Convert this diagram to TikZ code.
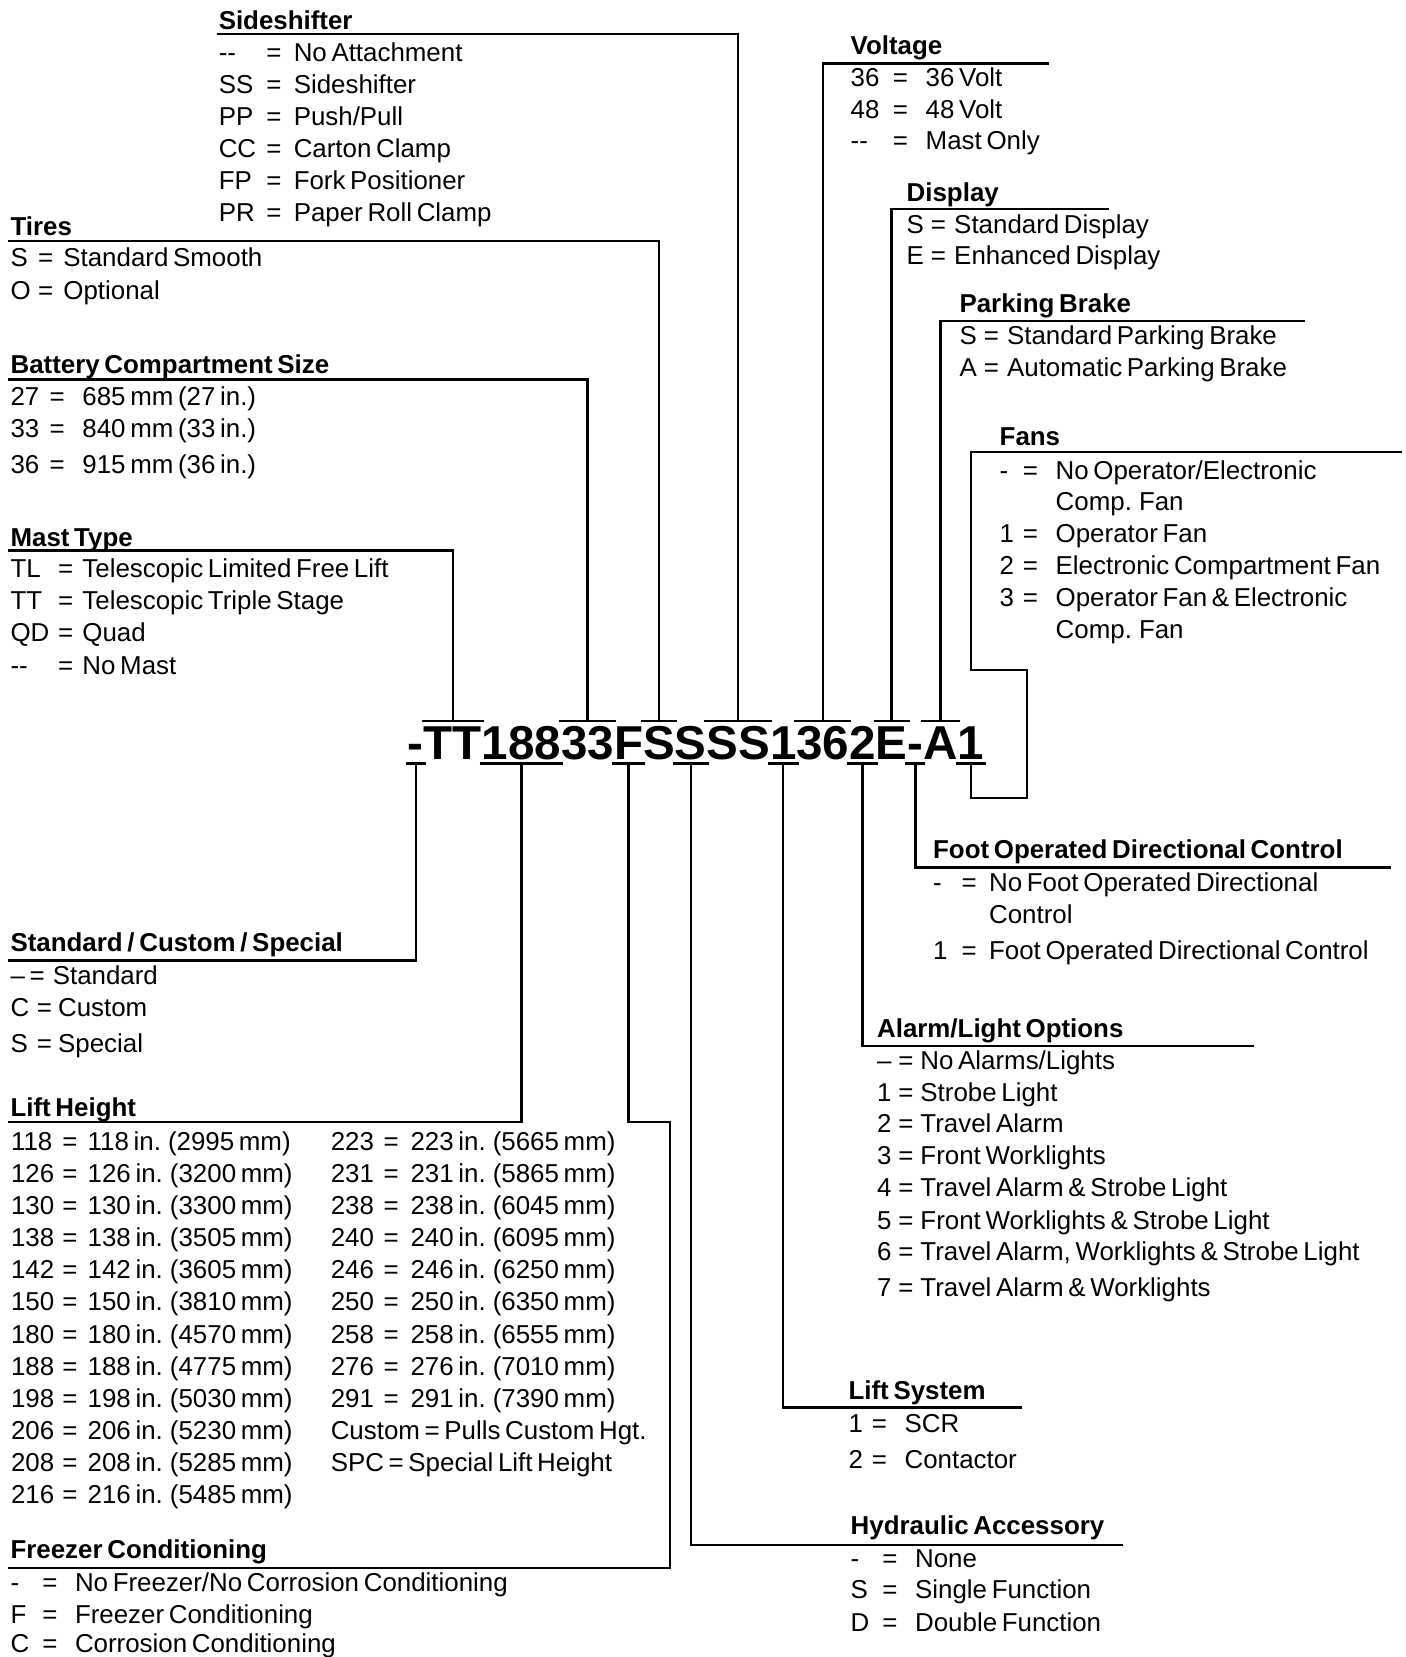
\documentclass[tikz,border=0pt]{standalone}
\usepackage{fontspec}
\setmainfont{Liberation Sans}[WordSpace=0.65]
\usetikzlibrary{calc}
\newcommand\ent[4]{\makebox[#2pt][l]{#1}\makebox[#3pt][l]{=}#4}
\tikzset{
  txt/.style={anchor=base west, inner sep=0pt, outer sep=0pt, font=\fontsize{24.5}{29}\selectfont},
  hd/.style={anchor=base west, inner sep=0pt, outer sep=0pt, font=\fontsize{24.5}{29}\selectfont\bfseries},
  ch/.style={anchor=base west, inner sep=0pt, outer sep=0pt, font=\fontsize{45}{50}\selectfont\bfseries},
  ln/.style={line width=2.2pt, line join=miter}
}
\newcommand\tbar[3]{%
  \draw[ln] ([xshift=-2pt,yshift=36.5pt]c#1.base west) -- ([xshift=2pt,yshift=36.5pt]c#2.base east);
  \coordinate (#3) at ($([yshift=36.5pt]c#1.base west)!0.5!([yshift=36.5pt]c#2.base east)$);}
\newcommand\bbar[3]{%
  \draw[ln] ([xshift=-2pt,yshift=-3.5pt]c#1.base west) -- ([xshift=2pt,yshift=-3.5pt]c#2.base east);
  \coordinate (#3) at ($([yshift=-3.5pt]c#1.base west)!0.5!([yshift=-3.5pt]c#2.base east)$);}
\begin{document}
\begin{tikzpicture}[x=1pt,y=-1pt]
\path[use as bounding box, fill=white] (0,0) rectangle (1330,1568);

% ---- code string ----
\node[ch] (c1) at (386,719) {-};
\node[ch] (c2) at (c1.base east) {T};
\node[ch] (c3) at (c2.base east) {T};
\node[ch] (c4) at (c3.base east) {1};
\node[ch] (c5) at (c4.base east) {8};
\node[ch] (c6) at (c5.base east) {8};
\node[ch] (c7) at (c6.base east) {3};
\node[ch] (c8) at (c7.base east) {3};
\node[ch] (c9) at (c8.base east) {F};
\node[ch] (c10) at (c9.base east) {S};
\node[ch] (c11) at (c10.base east) {S};
\node[ch] (c12) at (c11.base east) {S};
\node[ch] (c13) at (c12.base east) {S};
\node[ch] (c14) at (c13.base east) {1};
\node[ch] (c15) at (c14.base east) {3};
\node[ch] (c16) at (c15.base east) {6};
\node[ch] (c17) at (c16.base east) {2};
\node[ch] (c18) at (c17.base east) {E};
\node[ch] (c19) at (c18.base east) {-};
\node[ch] (c20) at (c19.base east) {A};
\node[ch] (c21) at (c20.base east) {1};

\tbar{2}{3}{tTT}
\tbar{7}{8}{t33}
\tbar{10}{10}{tS1}
\tbar{12}{13}{tSS}
\tbar{15}{16}{t36}
\tbar{18}{18}{tE}
\tbar{20}{20}{tA}
\bbar{1}{1}{bD}
\bbar{4}{6}{b188}
\bbar{9}{9}{bF}
\bbar{11}{11}{bS2}
\bbar{14}{14}{b1}
\bbar{17}{17}{b2}
\bbar{19}{19}{bD2}
\bbar{21}{21}{bL}

% ---- Sideshifter ----
\node[hd] (sh) at (207,27.5) {Sideshifter};
\node[txt] (sh1) at (207,58.5) {\ent{-{}-}{45}{26}{No Attachment}};
\node[txt] (sh2) at (207,88.5) {\ent{SS}{45}{26}{Sideshifter}};
\node[txt] (sh3) at (207,118.5) {\ent{PP}{45}{26}{Push/Pull}};
\node[txt] (sh4) at (207,149.5) {\ent{CC}{45}{26}{Carton Clamp}};
\node[txt] (sh5) at (207,179.5) {\ent{FP}{45}{26}{Fork Positioner}};
\node[txt] (sh6) at (207,209.5) {\ent{PR}{45}{26}{Paper Roll Clamp}};
\coordinate (shA) at (205,32);
\draw[ln] (shA) -| (tSS);

% ---- Tires ----
\node[hd] (ti) at (10,222.5) {Tires};
\node[txt] (ti1) at (10,252.5) {\ent{S}{26}{24}{Standard Smooth}};
\node[txt] (ti2) at (10,283) {\ent{O}{26}{24}{Optional}};
\coordinate (tiA) at (8,228);
\draw[ln] (tiA) -| (tS1);

% ---- Battery ----
\node[hd] (ba) at (10,353.5) {Battery Compartment Size};
\node[txt] (ba1) at (10,384) {\ent{27}{37}{31}{685 mm (27 in.)}};
\node[txt] (ba2) at (10,414) {\ent{33}{37}{31}{840 mm (33 in.)}};
\node[txt] (ba3) at (10,448.5) {\ent{36}{37}{31}{915 mm (36 in.)}};
\coordinate (baA) at (8,359);
\draw[ln] (baA) -| (t33);

% ---- Mast ----
\node[hd] (ma) at (10,517.5) {Mast Type};
\node[txt] (ma1) at (10,546.5) {\ent{TL}{45}{23}{Telescopic Limited Free Lift}};
\node[txt] (ma2) at (10,577) {\ent{TT}{45}{23}{Telescopic Triple Stage}};
\node[txt] (ma3) at (10,607.5) {\ent{QD}{45}{23}{Quad}};
\node[txt] (ma4) at (10,638) {\ent{-{}-}{45}{23}{No Mast}};
\coordinate (maA) at (8,521);
\draw[ln] (maA) -| (tTT);

% ---- Voltage ----
\node[hd] (vo) at (805,51.5) {Voltage};
\node[txt] (vo1) at (805,81.5) {\ent{36}{40}{31}{36 Volt}};
\node[txt] (vo2) at (805,112) {\ent{48}{40}{31}{48 Volt}};
\node[txt] (vo3) at (805,141.5) {\ent{-{}-}{40}{31}{Mast Only}};
\coordinate (voA) at (993,60);
\draw[ln] (voA) -| (t36);

% ---- Display ----
\node[hd] (di) at (858,190.5) {Display};
\node[txt] (di1) at (858,220.5) {\ent{S}{23}{22}{Standard Display}};
\node[txt] (di2) at (858,250.5) {\ent{E}{23}{22}{Enhanced Display}};
\coordinate (diA) at (1049,198);
\draw[ln] (diA) -| (tE);

% ---- Parking Brake ----
\node[hd] (pb) at (908,295.5) {Parking Brake};
\node[txt] (pb1) at (908,326) {\ent{S}{23}{22}{Standard Parking Brake}};
\node[txt] (pb2) at (908,356) {\ent{A}{23}{22}{Automatic Parking Brake}};
\coordinate (pbA) at (1235,304);
\draw[ln] (pbA) -| (tA);

% ---- Fans ----
\node[hd] (fa) at (946,421.5) {Fans};
\node[txt] (fa1) at (946,453.5) {\ent{-}{22}{31}{No Operator/Electronic}};
\node[txt] (fa1b) at (999,483.5) {Comp. Fan};
\node[txt] (fa2) at (946,513.5) {\ent{1}{22}{31}{Operator Fan}};
\node[txt] (fa3) at (946,543.5) {\ent{2}{22}{31}{Electronic Compartment Fan}};
\node[txt] (fa4) at (946,573.5) {\ent{3}{22}{31}{Operator Fan \& Electronic}};
\node[txt] (fa4b) at (999,604.5) {Comp. Fan};
\coordinate (faA) at (1327,428);
\coordinate (faB) at (919,428);
\coordinate (faC) at (919,634);
\coordinate (faD) at (972,634);
\coordinate (faE) at (972,755);
\draw[ln] (faA) -- (faB) -- (faC) -- (faD) -- (faE) -- (bL |- faE) -- (bL);

% ---- Foot Operated Directional Control ----
\node[hd] (fo) at (883,812.5) {Foot Operated Directional Control};
\node[txt] (fo1) at (883,843.5) {\ent{-}{27}{26}{No Foot Operated Directional}};
\node[txt] (fo1b) at (936,873.5) {Control};
\node[txt] (fo2) at (883,907.5) {\ent{1}{27}{26}{Foot Operated Directional Control}};
\coordinate (foA) at (1316,821);
\draw[ln] (foA) -| (bD2);

% ---- Alarm/Light Options ----
\node[hd] (al) at (830,981.5) {Alarm/Light Options};
\node[txt] (al1) at (830,1012) {\ent{–}{20}{21}{No Alarms/Lights}};
\node[txt] (al2) at (830,1042) {\ent{1}{20}{21}{Strobe Light}};
\node[txt] (al3) at (830,1072) {\ent{2}{20}{21}{Travel Alarm}};
\node[txt] (al4) at (830,1102) {\ent{3}{20}{21}{Front Worklights}};
\node[txt] (al5) at (830,1132) {\ent{4}{20}{21}{Travel Alarm \& Strobe Light}};
\node[txt] (al6) at (830,1163) {\ent{5}{20}{21}{Front Worklights \& Strobe Light}};
\node[txt] (al7) at (830,1193) {\ent{6}{20}{21}{Travel Alarm, Worklights \& Strobe Light}};
\node[txt] (al8) at (830,1227) {\ent{7}{20}{21}{Travel Alarm \& Worklights}};
\coordinate (alA) at (1187,990);
\draw[ln] (alA) -| (b2);

% ---- Lift System ----
\node[hd] (ls) at (803,1324.5) {Lift System};
\node[txt] (ls1) at (803,1356) {\ent{1}{22}{31}{SCR}};
\node[txt] (ls2) at (803,1390) {\ent{2}{22}{31}{Contactor}};
\coordinate (lsA) at (967,1332);
\draw[ln] (lsA) -| (b1);

% ---- Hydraulic Accessory ----
\node[hd] (hy) at (805,1452.5) {Hydraulic Accessory};
\node[txt] (hy1) at (805,1483) {\ent{-}{30}{31}{None}};
\node[txt] (hy2) at (805,1512.5) {\ent{S}{30}{31}{Single Function}};
\node[txt] (hy3) at (805,1543.5) {\ent{D}{30}{31}{Double Function}};
\coordinate (hyA) at (1063,1462);
\draw[ln] (hyA) -| (bS2);

% ---- Standard / Custom / Special ----
\node[hd] (sc) at (10,900.5) {Standard / Custom / Special};
\node[txt] (sc1) at (10,932) {\ent{–}{18}{22}{Standard}};
\node[txt] (sc2) at (10,962) {\ent{C}{25}{20}{Custom}};
\node[txt] (sc3) at (10,996) {\ent{S}{25}{20}{Special}};
\coordinate (scA) at (8,909);
\draw[ln] (scA) -| (bD);

% ---- Lift Height ----
\node[hd] (lh) at (10,1056.5) {Lift Height};
\node[txt] (lha1) at (10.5,1088.5) {\ent{118}{48.5}{24}{118 in. (2995 mm)}};
\node[txt] (lha2) at (10.5,1118.9) {\ent{126}{48.5}{24}{126 in. (3200 mm)}};
\node[txt] (lha3) at (10.5,1149.3) {\ent{130}{48.5}{24}{130 in. (3300 mm)}};
\node[txt] (lha4) at (10.5,1179.7) {\ent{138}{48.5}{24}{138 in. (3505 mm)}};
\node[txt] (lha5) at (10.5,1210.1) {\ent{142}{48.5}{24}{142 in. (3605 mm)}};
\node[txt] (lha6) at (10.5,1240.5) {\ent{150}{48.5}{24}{150 in. (3810 mm)}};
\node[txt] (lha7) at (10.5,1270.9) {\ent{180}{48.5}{24}{180 in. (4570 mm)}};
\node[txt] (lha8) at (10.5,1301.3) {\ent{188}{48.5}{24}{188 in. (4775 mm)}};
\node[txt] (lha9) at (10.5,1331.7) {\ent{198}{48.5}{24}{198 in. (5030 mm)}};
\node[txt] (lha10) at (10.5,1362.1) {\ent{206}{48.5}{24}{206 in. (5230 mm)}};
\node[txt] (lha11) at (10.5,1392.5) {\ent{208}{48.5}{24}{208 in. (5285 mm)}};
\node[txt] (lha12) at (10.5,1422.9) {\ent{216}{48.5}{24}{216 in. (5485 mm)}};
\node[txt] (lhb1) at (313,1088.5) {\ent{223}{50}{25.5}{223 in. (5665 mm)}};
\node[txt] (lhb2) at (313,1118.9) {\ent{231}{50}{25.5}{231 in. (5865 mm)}};
\node[txt] (lhb3) at (313,1149.3) {\ent{238}{50}{25.5}{238 in. (6045 mm)}};
\node[txt] (lhb4) at (313,1179.7) {\ent{240}{50}{25.5}{240 in. (6095 mm)}};
\node[txt] (lhb5) at (313,1210.1) {\ent{246}{50}{25.5}{246 in. (6250 mm)}};
\node[txt] (lhb6) at (313,1240.5) {\ent{250}{50}{25.5}{250 in. (6350 mm)}};
\node[txt] (lhb7) at (313,1270.9) {\ent{258}{50}{25.5}{258 in. (6555 mm)}};
\node[txt] (lhb8) at (313,1301.3) {\ent{276}{50}{25.5}{276 in. (7010 mm)}};
\node[txt] (lhb9) at (313,1331.7) {\ent{291}{50}{25.5}{291 in. (7390 mm)}};
\node[txt] (lhb10) at (313,1362.1) {Custom = Pulls Custom Hgt.};
\node[txt] (lhb11) at (313,1392.5) {SPC = Special Lift Height};
\coordinate (lhA) at (8,1062);
\draw[ln] (lhA) -| (b188);

% ---- Freezer Conditioning ----
\node[hd] (fr) at (10,1474.5) {Freezer Conditioning};
\node[txt] (fr1) at (10,1506) {\ent{-}{30}{31}{No Freezer/No Corrosion Conditioning}};
\node[txt] (fr2) at (10,1536) {\ent{F}{30}{31}{Freezer Conditioning}};
\node[txt] (fr3) at (10,1564) {\ent{C}{30}{31}{Corrosion Conditioning}};
\coordinate (frA) at (8,1484);
\coordinate (frB) at (634,1484);
\coordinate (frC) at (634,1062);
\draw[ln] (frA) -- (frB) -- (frC) -- (bF |- frC) -- (bF);
\end{tikzpicture}
\end{document}
